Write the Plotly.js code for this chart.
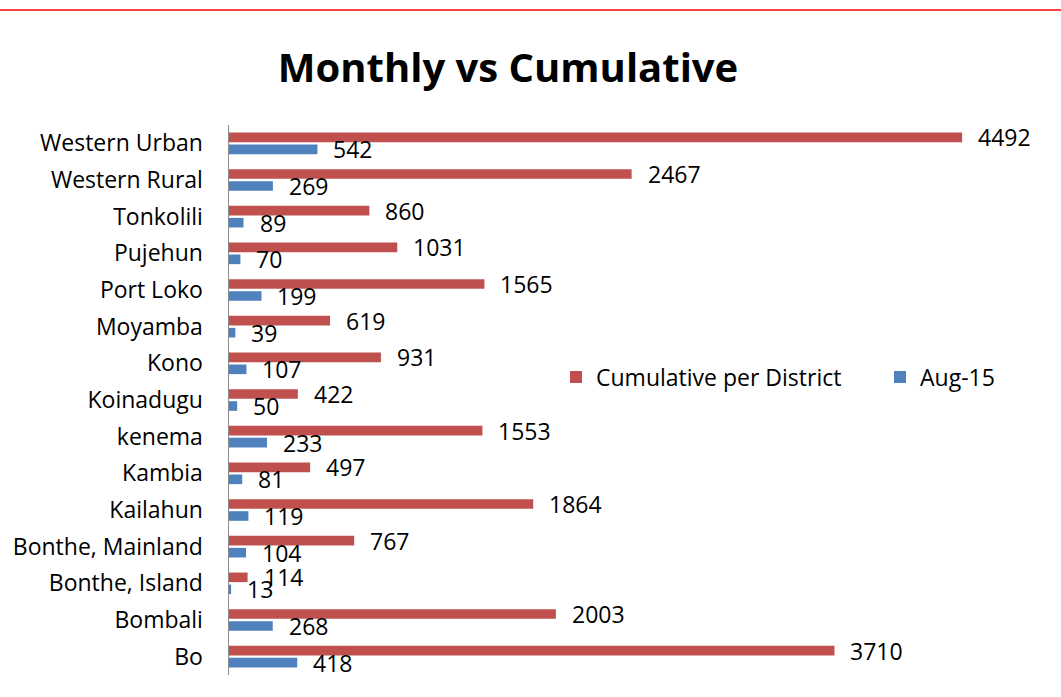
<!DOCTYPE html>
<html>
<head>
<meta charset="utf-8">
<script src="https://cdn.plot.ly/plotly-3.0.1.min.js"></script>
<style>html,body{margin:0;padding:0;background:#fff;}#chart{width:1061px;height:697px;}</style>
</head>
<body>
<div id="chart"></div>
<script>
const districts = ["Bo","Bombali","Bonthe, Island","Bonthe, Mainland","Kailahun","Kambia","kenema","Koinadugu","Kono","Moyamba","Port Loko","Pujehun","Tonkolili","Western Rural","Western Urban"];
const cumulative = [3710,2003,114,767,1864,497,1553,422,931,619,1565,1031,860,2467,4492];
const aug15 = [418,268,13,104,119,81,233,50,107,39,199,70,89,269,542];

const RED = "#C0504D", BLUE = "#4F81BD";
const FONT = "Open Sans, sans-serif";

const traces = [
  {type:"bar", orientation:"h", name:"Aug-15", y:districts, x:aug15, marker:{color:BLUE}, legend:"legend2", hoverinfo:"x+name"},
  {type:"bar", orientation:"h", name:"Cumulative per District", y:districts, x:cumulative, marker:{color:RED}, legend:"legend", hoverinfo:"x+name"}
];

const annotations = [];
districts.forEach((d,i)=>{
  annotations.push({x:cumulative[i], y:d, xref:"x", yref:"y", text:String(cumulative[i]), showarrow:false, xanchor:"left", yanchor:"middle", xshift:14, yshift:6, font:{family:FONT, size:23, color:"#000"}});
  annotations.push({x:aug15[i], y:d, xref:"x", yref:"y", text:String(aug15[i]), showarrow:false, xanchor:"left", yanchor:"middle", xshift:14, yshift:-6, font:{family:FONT, size:23, color:"#000"}});
});

const L = 229, R = 16, T = 125, B = 22, W = 1061, H = 697;
const pw = W - L - R, ph = H - T - B;

const legendBase = {orientation:"h", yanchor:"middle", xanchor:"left", font:{family:FONT, size:23, color:"#000"}, bgcolor:"rgba(0,0,0,0)", itemwidth:30};

const layout = {
  width: W, height: H,
  margin:{l:L, r:R, t:T, b:B, pad:0},
  paper_bgcolor:"#fff", plot_bgcolor:"#fff",
  title:{text:"<b>Monthly vs Cumulative</b>", font:{family:FONT, size:40, color:"#000"}, x:508/W, xanchor:"center", y:1-68/H, yanchor:"middle"},
  barmode:"group", bargap:0.345, bargroupgap:0.2,
  xaxis:{range:[0,5000], autorange:false, visible:false, showgrid:false, zeroline:false, fixedrange:true},
  yaxis:{type:"category", categoryorder:"array", categoryarray:districts, range:[-0.5, districts.length-0.5], autorange:false, showline:true, linecolor:"#8c8c8c", linewidth:1.5, showgrid:false, zeroline:false, ticks:"outside", ticklen:20, tickcolor:"rgba(0,0,0,0)", tickfont:{family:FONT, size:23, color:"#000"}, fixedrange:true},
  showlegend:true,
  legend:Object.assign({}, legendBase, {x:(556-L)/pw, y:(H-B-377)/ph}),
  legend2:Object.assign({}, legendBase, {x:(880-L)/pw, y:(H-B-377)/ph}),
  annotations: annotations,
  shapes:[{type:"line", xref:"paper", yref:"paper", x0:-L/pw, x1:(W-L)/pw, y0:(H-B-10)/ph, y1:(H-B-10)/ph, line:{color:"#ff0000", width:1.5}}]
};

Plotly.newPlot("chart", traces, layout, {displayModeBar:false, staticPlot:true});
</script>
</body>
</html>
